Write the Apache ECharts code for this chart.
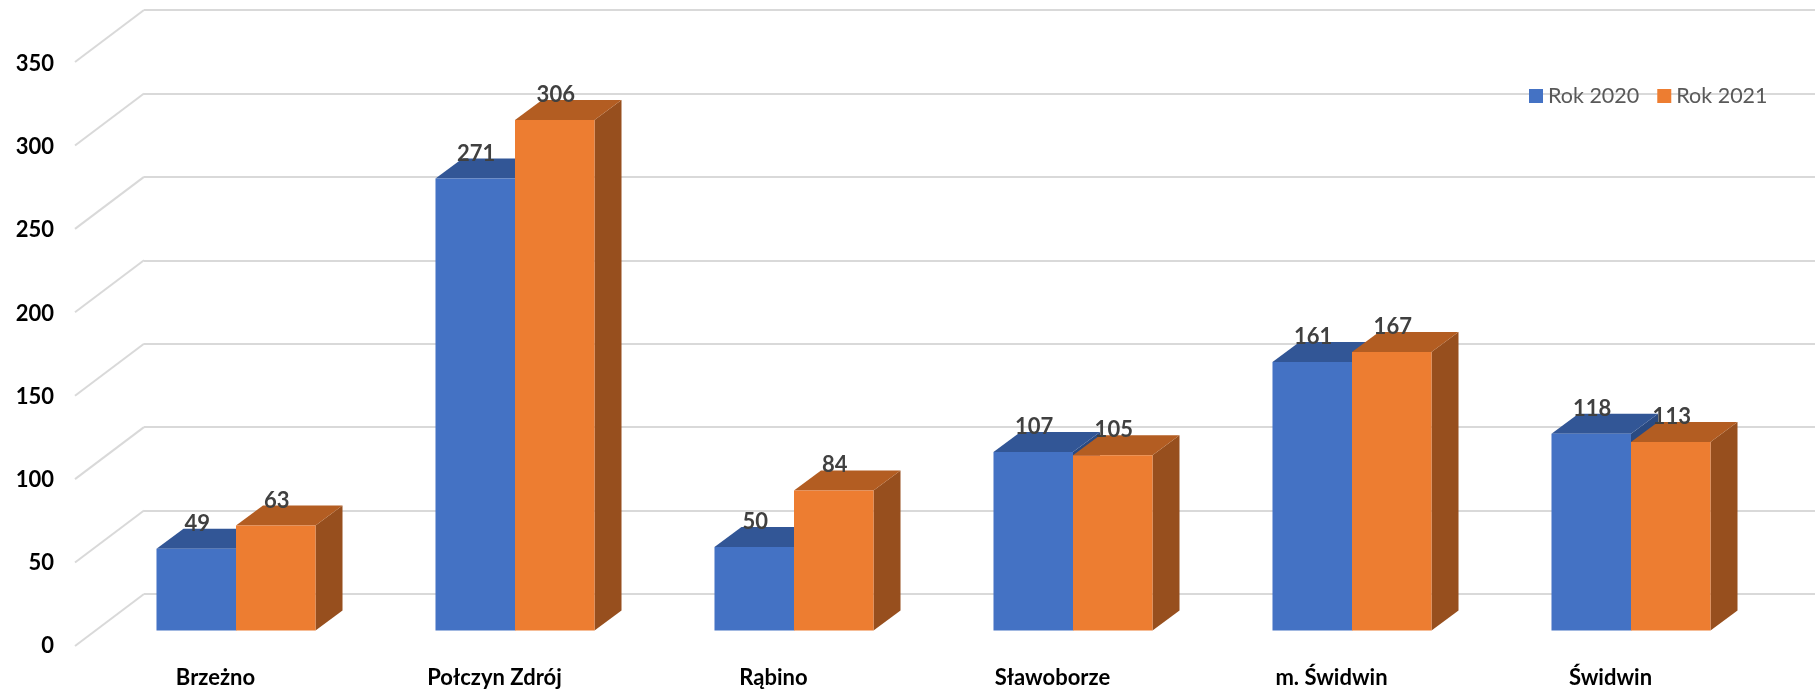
<!DOCTYPE html>
<html>
<head>
<meta charset="utf-8">
<style>html,body{margin:0;padding:0;background:#fff}#c{width:1815px;height:689px}</style>
<script src="https://cdn.jsdelivr.net/npm/echarts@6/dist/echarts.min.js"></script>
</head>
<body>
<div id="c"></div>
<script>
const categories = ['Brzeżno', 'Połczyn Zdrój', 'Rąbino', 'Sławoborze', 'm. Świdwin', 'Świdwin'];
const rok2020 = [49, 271, 50, 107, 161, 118];
const rok2021 = [63, 306, 84, 105, 167, 113];
const gridTicks = [0, 50, 100, 150, 200, 250, 300, 350];
const FONT = 'Lato, "Open Sans", sans-serif';
const DEPTH_X = 27, DEPTH_Y = 20, BAR_RATIO = 0.285;

function bar3d(front, top, side, sideSign) {
  return function (params, api) {
    const idx = api.value(0), val = api.value(1);
    const p = api.coord([idx, val]);
    const b = api.coord([idx, 0]);
    const w = api.size([1, 0])[0] * BAR_RATIO;
    const x0 = sideSign < 0 ? p[0] - w : p[0];
    const x1 = x0 + w;
    const y = p[1], by = b[1];
    return {
      type: 'group',
      children: [
        { type: 'polygon', shape: { points: [[x1, y], [x1 + DEPTH_X, y - DEPTH_Y], [x1 + DEPTH_X, by - DEPTH_Y], [x1, by]] }, style: { fill: side } },
        { type: 'polygon', shape: { points: [[x0, y], [x0 + DEPTH_X, y - DEPTH_Y], [x1 + DEPTH_X, y - DEPTH_Y], [x1, y]] }, style: { fill: top } },
        { type: 'rect', shape: { x: x0, y: y, width: w, height: by - y }, style: { fill: front } },
        { type: 'text', z2: 50, style: { x: (x0 + x1) / 2 + 1, y: y - 25, text: String(val), fill: '#404040', font: 'bold 22px ' + FONT, align: 'center', verticalAlign: 'middle' } }
      ]
    };
  };
}

function floorLine(params, api) {
  const p = api.coord([0, api.value(0)]);
  return { type: 'line', shape: { x1: p[0], y1: p[1], x2: p[0] - 69, y2: p[1] + 52 }, style: { stroke: '#d9d9d9', lineWidth: 2 } };
}

const chart = echarts.init(document.getElementById('c'), null, { renderer: 'canvas' });
chart.setOption({
  animation: false,
  backgroundColor: '#ffffff',
  legend: {
    left: 1524, top: 80, itemWidth: 14, itemHeight: 14, itemGap: 18, icon: 'rect',
    textStyle: { color: '#595959', fontFamily: FONT, fontSize: 21.5 },
    data: ['Rok 2020', 'Rok 2021']
  },
  grid: [
    { left: 144, right: 0, top: 10, bottom: 95 },
    { left: 76, width: 1674, top: 64, bottom: 41 },
    { left: 96.5, width: 1674, top: 46.7, bottom: 58.5 }
  ],
  xAxis: [
    { gridIndex: 0, type: 'value', min: 0, max: 1, show: false },
    { gridIndex: 1, type: 'category', data: categories,
      axisLine: { show: false }, axisTick: { show: false },
      axisLabel: { margin: 21, color: '#000', fontFamily: FONT, fontWeight: 'bold', fontSize: 22, interval: 0 } },
    { gridIndex: 2, type: 'category', data: categories, show: false }
  ],
  yAxis: [
    { gridIndex: 0, type: 'value', min: 0, max: 350, interval: 50, axisLabel: { show: false }, axisLine: { show: false }, axisTick: { show: false },
      splitLine: { lineStyle: { color: '#d9d9d9', width: 2 } } },
    { gridIndex: 1, type: 'value', min: 0, max: 350, interval: 50, axisLine: { show: false }, axisTick: { show: false }, splitLine: { show: false },
      axisLabel: { margin: 22, color: '#000', fontFamily: FONT, fontWeight: 'bold', fontSize: 22 } },
    { gridIndex: 2, type: 'value', min: 0, max: 350, interval: 50, show: false, splitLine: { show: false } }
  ],
  series: [
    { type: 'custom', name: 'floor', xAxisIndex: 0, yAxisIndex: 0, silent: true, data: gridTicks.map(v => [v]), encode: { y: 0 }, renderItem: floorLine, z: 1 },
    { type: 'custom', name: 'Rok 2020', xAxisIndex: 2, yAxisIndex: 2, itemStyle: { color: '#4472c4' }, z: 2,
      data: rok2020.map((v, i) => [i, v]), encode: { x: 0, y: 1 }, renderItem: bar3d('#4472c4', '#325696', '#2a4a82', -1) },
    { type: 'custom', name: 'Rok 2021', xAxisIndex: 2, yAxisIndex: 2, itemStyle: { color: '#ed7d31' }, z: 3,
      data: rok2021.map((v, i) => [i, v]), encode: { x: 0, y: 1 }, renderItem: bar3d('#ed7d31', '#b35d22', '#974f1e', 1) }
  ]
});
</script>
</body>
</html>
